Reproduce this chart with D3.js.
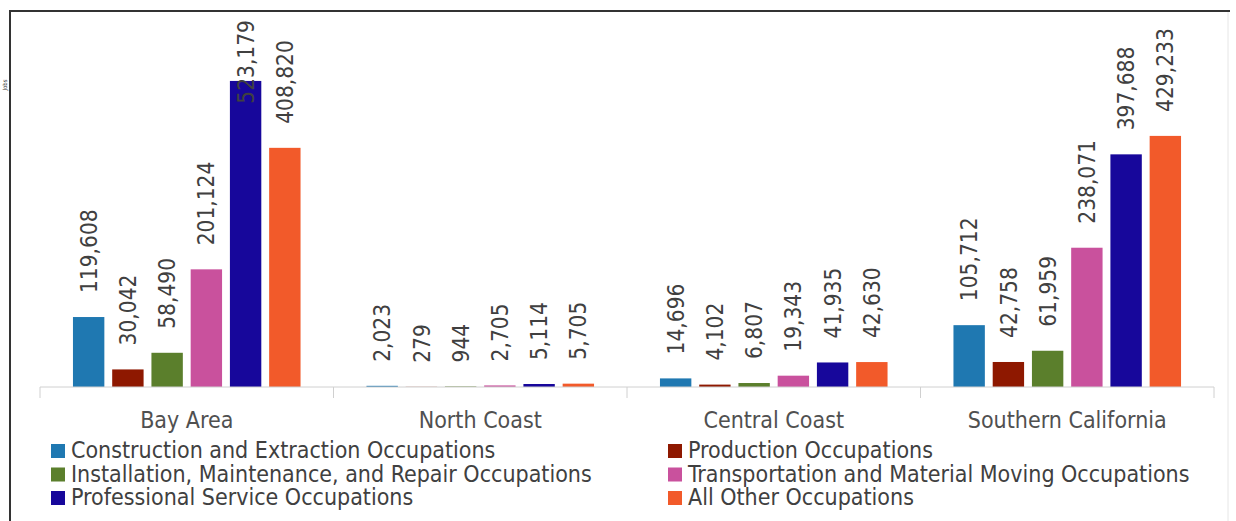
<!DOCTYPE html>
<html>
<head>
<meta charset="utf-8">
<script src="https://cdn.jsdelivr.net/npm/d3@7"></script>
<style>
  body { margin: 0; background: #fff; }
  text { font-family: "DejaVu Sans Condensed", "DejaVu Sans", sans-serif; }
</style>
</head>
<body>
<div class="chart"></div>
<script>
const w = 1236;
const h = 521;

const regions = ["Bay Area", "North Coast", "Central Coast", "Southern California"];
const series = [
  "Construction and Extraction Occupations",
  "Production Occupations",
  "Installation, Maintenance, and Repair Occupations",
  "Transportation and Material Moving Occupations",
  "Professional Service Occupations",
  "All Other Occupations"
];
const construction = [119608, 2023, 14696, 105712];
const production = [30042, 279, 4102, 42758];
const installation = [58490, 944, 6807, 61959];
const transportation = [201124, 2705, 19343, 238071];
const professional = [523179, 5114, 41935, 397688];
const allOther = [408820, 5705, 42630, 429233];
const values = [construction, production, installation, transportation, professional, allOther];
const colors = ["#1f78b1", "#8e1800", "#5b7f2c", "#c9519d", "#17079b", "#f25a2a"];

const svg = d3.select(".chart")
              .append("svg")
              .attr("width", w)
              .attr("height", h);

// frame
svg.append("line").attr("x1", 10).attr("y1", 11).attr("x2", 1230).attr("y2", 11)
   .attr("stroke", "#333").attr("stroke-width", 2);
svg.append("line").attr("x1", 10).attr("y1", 10).attr("x2", 10).attr("y2", h)
   .attr("stroke", "#333").attr("stroke-width", 2);
svg.append("line").attr("x1", 1228).attr("y1", 12).attr("x2", 1228).attr("y2", h)
   .attr("stroke", "#e6e6e6").attr("stroke-width", 1);

// tiny y axis title, illegible in the original
svg.append("text")
   .attr("transform", "translate(7,85) rotate(-90)")
   .attr("text-anchor", "middle")
   .attr("font-size", 6)
   .attr("fill", "#333")
   .text("Jobs");

const x0 = d3.scaleBand()
             .domain(regions)
             .range([40, 1214]);

const x1 = d3.scaleBand()
             .domain(series)
             .range([0, x0.bandwidth()])
             .paddingInner(0.2)
             .paddingOuter(0.84);

const yScale = d3.scaleLinear()
                 .domain([0, 600000])
                 .range([387, 36]);

const rows = [];
regions.forEach((r, i) => {
  series.forEach((s, j) => {
    rows.push({ region: r, series: s, value: values[j][i], color: colors[j] });
  });
});

svg.selectAll("rect.bar")
   .data(rows)
   .enter()
   .append("rect")
   .attr("class", "bar")
   .attr("x", d => x0(d.region) + x1(d.series))
   .attr("y", d => yScale(d.value))
   .attr("width", x1.bandwidth())
   .attr("height", d => yScale(0) - yScale(d.value))
   .attr("fill", d => d.color);

// value labels, rotated, pushed down when they would hit the top
const fmt = d3.format(",");
const plotTop = 20;
svg.selectAll("text.lbl")
   .data(rows)
   .enter()
   .append("text")
   .attr("class", "lbl")
   .attr("font-size", 22.5)
   .attr("fill", "#404040")
   .attr("dy", "0.36em")
   .text(d => fmt(d.value))
   .each(function(d) {
     const len = this.getComputedTextLength();
     const cx = x0(d.region) + x1(d.series) + x1.bandwidth() / 2;
     const y = Math.max(yScale(d.value) - 24, plotTop + len);
     d3.select(this).attr("transform", "translate(" + cx + "," + y + ") rotate(-90)");
   });

// category axis
const xAxis = d3.axisBottom(x0).tickSize(0).tickPadding(0);
const gx = svg.append("g")
              .attr("transform", "translate(0,387)")
              .call(xAxis)
              .attr("id", "x-axis");
gx.select(".domain").attr("stroke", "#d0d0d0").attr("d", "M40,0H1214");
gx.selectAll(".tick text")
  .attr("font-family", "DejaVu Sans Condensed, DejaVu Sans, sans-serif")
  .attr("font-size", 23)
  .attr("fill", "#505050")
  .attr("y", 41)
  .attr("dy", 0);
gx.selectAll(".sep")
  .data([40].concat(regions.map(r => x0(r) + x0.bandwidth())))
  .enter()
  .append("line")
  .attr("class", "sep")
  .attr("x1", d => d).attr("x2", d => d)
  .attr("y1", 0).attr("y2", 11)
  .attr("stroke", "#d0d0d0");

// legend
const legend = svg.append("g");
series.forEach((s, j) => {
  const col = j % 2;
  const row = Math.floor(j / 2);
  const lx = col === 0 ? 51 : 668;
  const ly = 458 + row * 23.5;
  legend.append("rect")
        .attr("x", lx).attr("y", ly - 14)
        .attr("width", 14).attr("height", 14)
        .attr("fill", colors[j]);
  legend.append("text")
        .attr("x", lx + 20).attr("y", ly)
        .attr("font-size", 23)
        .attr("fill", "#404040")
        .text(s);
});
</script>
</body>
</html>
